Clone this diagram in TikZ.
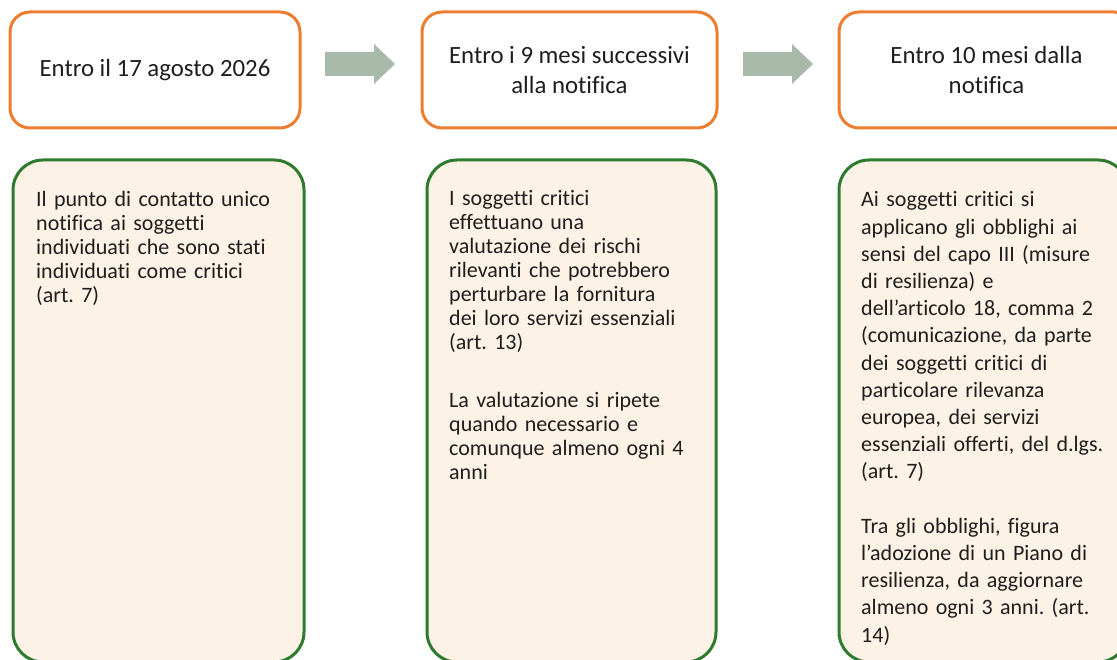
\documentclass[tikz,border=0pt]{standalone}
\usepackage{fontspec}
\setmainfont{Carlito}[Ligatures=NoCommon]
\usetikzlibrary{calc}
\definecolor{orangeb}{HTML}{ED7D31}
\definecolor{greenb}{HTML}{2E7A2E}
\definecolor{fillb}{HTML}{FDF2E6}
\definecolor{arrowc}{HTML}{A9B9AA}
\definecolor{txt}{HTML}{1E1E1E}
\frenchspacing
\begin{document}
\begin{tikzpicture}[x=1pt,y=-1pt,
 topbox/.style={draw=orangeb, line width=3pt, rounded corners=20pt, fill=white, minimum height=116pt, inner sep=0pt, outer sep=0pt, align=center, text=txt, font=\fontsize{24.8}{30.3}\selectfont},
 bodybox/.style={draw=greenb, line width=3pt, rounded corners=30pt, fill=fillb, minimum height=502pt, inner sep=0pt, outer sep=0pt},
 bodytext/.style={anchor=base west, text width=268pt, align=left, inner sep=0pt, text=txt, font=\fontsize{22}{24}\selectfont},
 blockarrow/.style={fill=arrowc}]
\useasboundingbox (0,0) rectangle (1117,660);
\clip (0,0) rectangle (1117,660);

\node[topbox, minimum width=290pt] (t1) at (155,70) {Entro il 17 agosto 2026};
\node[topbox, minimum width=295pt] (t2) at (569.5,70) {Entro i 9 mesi successivi\\alla notifica};
\node[topbox, minimum width=295pt] (t3) at (986.5,70) {Entro 10 mesi dalla\\notifica};

\fill[blockarrow] ($(t1.east)+(25,-18)$) -- ++(49,0) -- ++(0,-8) -- ++(21,20) -- ++(-21,20) -- ++(0,-8) -- ++(-49,0) -- cycle;
\fill[blockarrow] ($(t2.east)+(26,-18)$) -- ++(49,0) -- ++(0,-8) -- ++(21,20) -- ++(-21,20) -- ++(0,-8) -- ++(-49,0) -- cycle;

\node[bodybox, minimum width=291pt] (b1) at (158.5,411) {};
\node[bodybox, minimum width=289pt] (b2) at (571.5,411) {};
\node[bodybox, minimum width=289pt] (b3) at (983.5,411) {};

\node[bodytext] (p1) at ($(b1.north west)+(23,46.5)$) {Il punto di contatto unico\\notifica ai soggetti\\individuati che sono stati\\individuati come critici\\(art. 7)};
\node[bodytext] (p2) at ($(b2.north west)+(22,46)$) {I soggetti critici\\effettuano una\\valutazione dei rischi\\rilevanti che potrebbero\\perturbare la fornitura\\dei loro servizi essenziali\\(art. 13)\\[34pt]La valutazione si ripete\\quando necessario e\\comunque almeno ogni 4\\anni};
\node[bodytext, font=\fontsize{22}{27.2}\selectfont] (p3) at ($(b3.north west)+(22,47)$) {Ai soggetti critici si\\applicano gli obblighi ai\\sensi del capo III (misure\\di resilienza) e\\dell’articolo 18, comma 2\\(comunicazione, da parte\\dei soggetti critici di\\particolare rilevanza\\europea, dei servizi\\essenziali offerti, del d.lgs.\\(art. 7)\\[27.2pt]Tra gli obblighi, figura\\l’adozione di un Piano di\\resilienza, da aggiornare\\almeno ogni 3 anni. (art.\\14)};
\end{tikzpicture}
\end{document}
